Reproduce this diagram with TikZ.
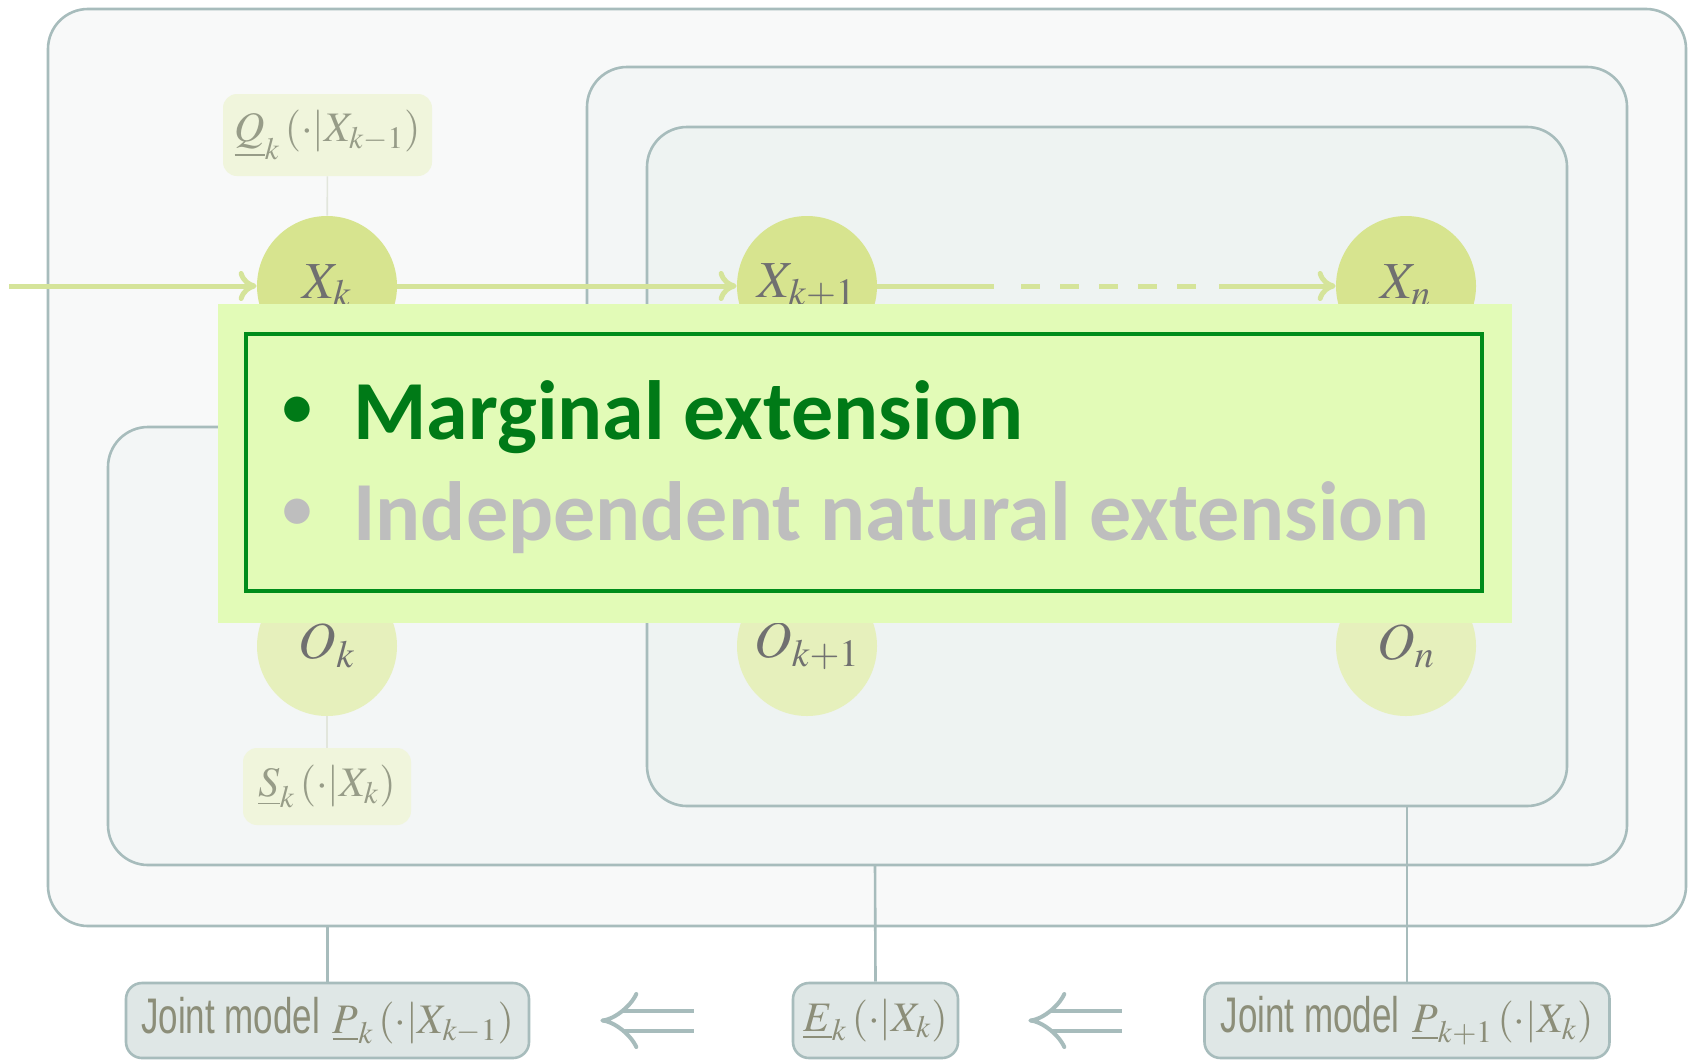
\documentclass[tikz,border=0pt]{standalone}
\usepackage{mathptmx}
\usepackage[no-math]{fontspec}
\usetikzlibrary{arrows.meta}

\newfontfamily\calib{Carlito}
\newfontfamily\jointfont[FakeStretch=0.7]{Liberation Sans}

\definecolor{panelline}{HTML}{A7BCBC}
\definecolor{outerfill}{HTML}{F8F9F9}
\definecolor{midfill}{HTML}{F3F6F6}
\definecolor{innerfill}{HTML}{EEF3F2}
\definecolor{hidfill}{HTML}{D7E48F}
\definecolor{obsfill}{HTML}{E6F0BC}
\definecolor{vartext}{HTML}{707070}
\definecolor{localfill}{HTML}{F0F5DC}
\definecolor{localtext}{HTML}{979C88}
\definecolor{flowgreen}{HTML}{D5E49A}
\definecolor{tiegray}{HTML}{E2E6DC}
\definecolor{modelfill}{HTML}{DFE7E6}
\definecolor{modeltext}{HTML}{8C8E79}
\definecolor{calloutfill}{HTML}{E2FBB7}
\definecolor{framegreen}{HTML}{008C1A}
\definecolor{marggreen}{HTML}{007A17}
\definecolor{indepgray}{HTML}{BEBEBE}

\tikzset{
	panel/.style={draw=panelline, line width=1.3pt, rounded corners=20pt},
	var/.style={circle, minimum size=70pt, inner sep=0pt, text=vartext,
		font=\fontsize{26}{30}\selectfont},
	hid/.style={var, fill=hidfill},
	obs/.style={var, fill=obsfill},
	local/.style={fill=localfill, rounded corners=7pt, inner sep=0pt,
		text=localtext, font=\fontsize{21}{24}\selectfont},
	model/.style={draw=panelline, fill=modelfill, line width=1.3pt,
		rounded corners=8pt, inner sep=0pt, minimum height=37.5pt,
		text=modeltext, font=\fontsize{21}{24}\selectfont},
	flow/.style={draw=flowgreen, line width=2.5pt},
	flowto/.style={flow, -{Computer Modern Rightarrow[length=9pt, width=15pt]}},
	tie/.style={draw=tiegray, line width=0.8pt},
	link/.style={draw=panelline, line width=1.3pt},
	implies/.style={draw=panelline, line width=2pt, double=white,
		double distance=8pt, -{Implies[scale=1.4]}},
	item/.style={font=\calib\bfseries\fontsize{42}{50}\selectfont, inner sep=0pt},
	dot/.style={font=\calib\bfseries\fontsize{30}{36}\selectfont, inner sep=0pt}
}

\begin{document}
\begin{tikzpicture}[x=0.5pt, y=-0.5pt]
	\def\jm{{\jointfont\fontsize{25}{30}\selectfont Joint model} }

	\fill[white] (0,0) rectangle (1689,1060);
	\useasboundingbox (0,0) rectangle (1689,1060);

	% nested panels
	\node[panel, fill=outerfill, minimum width=819pt, minimum height=458.5pt] (outer) at (867,467.5) {};
	\draw[panel, fill=midfill] (108,865) -- (108,427) -- (587,427) -- (587,67)
		-- (1627,67) -- (1627,865) -- cycle;
	\coordinate (Lbot) at (875,865);
	\node[panel, fill=innerfill, minimum width=460pt, minimum height=339.5pt] (inner) at (1107,466.5) {};

	% local models
	\node[local, minimum width=104.5pt, minimum height=41pt] (Q) at (327.5,135)
		{$\underline{Q}_k\left(\cdot\middle|X_{k-1}\right)$};
	\node[local, minimum width=84pt, minimum height=38.5pt] (S) at (327,786.5)
		{$\underline{S}_k\left(\cdot\middle|X_k\right)$};

	% state and output variables
	\node[hid] (Xk) at (327,286) {$X_k$};
	\node[hid] (Xk1) at (807,286) {$X_{k+1}$};
	\node[hid] (Xn) at (1406,286) {$X_n$};
	\node[obs] (Ok) at (327,646) {$O_k$};
	\node[obs] (Ok1) at (807,646) {$O_{k+1}$};
	\node[obs] (On) at (1406,646) {$O_n$};

	\draw[tie] (Q) -- (Xk);
	\draw[tie] (Ok) -- (S);

	\coordinate (start) at (9,286);
	\coordinate (gapL) at (994,286);
	\coordinate (dotsL) at (1021,286);
	\coordinate (dotsR) at (1196,286);
	\coordinate (gapR) at (1219,286);
	\draw[flowto] (start) -- (Xk);
	\draw[flowto] (Xk) -- (Xk1);
	\draw[flow] (Xk1) -- (gapL);
	\draw[flow, dash pattern=on 9.5pt off 10pt] (dotsL) -- (dotsR);
	\draw[flowto] (gapR) -- (Xn);

	% callout
	\node[fill=calloutfill, minimum width=647pt, minimum height=159.5pt, inner sep=0pt] (callout) at (865,463.5) {};
	\node[draw=framegreen, line width=2pt, minimum width=618pt, minimum height=128.5pt, inner sep=0pt] (frame) at (864,462.5) {};
	\node[dot, text=marggreen] (bullet1) at (297,412) {•};
	\node[item, text=marggreen, anchor=base west] (marg) at (353,439) {Marginal extension};
	\node[dot, text=indepgray] (bullet2) at (297,514) {•};
	\node[item, text=indepgray, anchor=base west] (indep) at (353,540) {Independent natural extension};

	% joint models
	\node[model, minimum width=201.5pt] (Pk) at (327.5,1020.5)
		{\jm$\underline{P}_k\left(\cdot\middle|X_{k-1}\right)$};
	\node[model, minimum width=82.5pt] (Ek) at (875.5,1020.5)
		{$\underline{E}_k\left(\cdot\middle|X_k\right)$};
	\node[model, minimum width=202.5pt] (Pk1) at (1407,1020.5)
		{\jm$\underline{P}_{k+1}\left(\cdot\middle|X_k\right)$};

	\draw[link] (Pk.north) -- (outer.south -| Pk.north);
	\draw[link] (Ek.north) -- (Lbot);
	\draw[link] (Pk1.north) -- (inner.south -| Pk1.north);

	\draw[implies, shorten <=49pt, shorten >=35pt] (Ek) -- (Pk);
	\draw[implies, shorten <=40.5pt, shorten >=34.5pt] (Pk1) -- (Ek);
\end{tikzpicture}
\end{document}
